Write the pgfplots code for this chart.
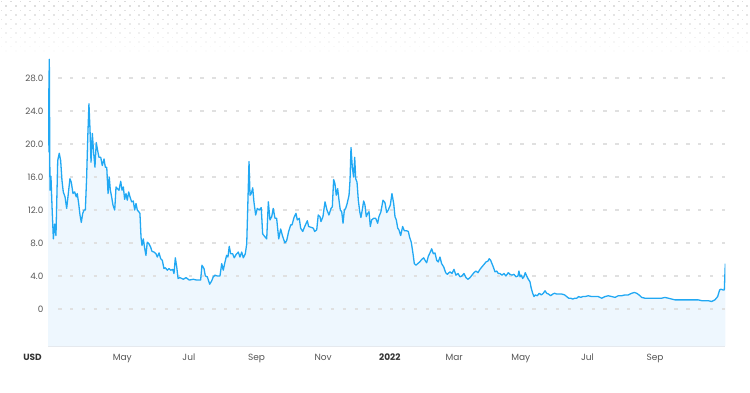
\documentclass[border=0pt]{standalone}
\usepackage{pgfplots}
\pgfplotsset{compat=1.18}
\usepackage{pgfplotstable}
\usepackage{fontspec}
\setmainfont{Poppins}
\definecolor{linec}{HTML}{21A8F3}
\definecolor{fillc}{HTML}{EEF7FE}
\definecolor{gridc}{HTML}{E0E0E0}
\definecolor{tickc}{HTML}{555555}
\definecolor{boldc}{HTML}{333333}
\definecolor{basec}{HTML}{E4E8EC}

% d = days since 1 Jan 2021, v = price (USD)
\pgfplotstableread{
d v
52.0 19.0
53.2 30.3
53.8 14.4
54.7 16.1
55.7 12.4
56.9 8.5
58.1 10.3
59.3 8.9
60.9 18.0
62.3 18.9
63.6 18.0
64.8 15.6
66.0 14.2
67.6 13.6
69.1 12.2
70.6 14.0
72.1 15.8
73.3 15.4
74.9 14.0
76.4 14.2
77.9 13.6
78.8 14.0
80.1 12.8
81.3 11.4
82.5 10.5
83.8 11.6
85.0 12.0
86.2 12.0
87.4 16.0
88.4 20.8
89.5 24.9
90.5 21.7
91.4 17.8
92.6 21.3
93.9 18.8
95.0 17.2
96.2 20.2
97.5 19.2
98.7 18.4
100.3 18.4
101.7 17.4
103.3 18.2
104.5 17.2
105.8 17.2
107.0 14.0
108.1 16.0
109.1 14.4
110.3 13.6
111.5 12.6
113.1 12.0
114.3 14.8
115.5 14.6
117.0 14.4
118.6 15.5
119.8 14.4
121.0 14.8
122.2 13.3
123.4 14.0
124.6 13.2
125.9 14.2
127.1 13.6
128.6 13.0
130.1 13.1
131.4 12.0
132.6 12.8
133.8 12.0
135.1 11.8
136.2 11.6
137.2 8.7
138.1 7.7
139.3 8.5
140.6 7.3
141.7 6.5
142.9 8.1
144.5 7.9
146.0 7.5
147.2 7.0
149.1 6.9
150.9 6.7
152.1 6.3
153.7 6.8
155.2 6.1
156.7 5.9
158.2 4.9
159.4 5.0
161.3 4.7
162.8 4.9
164.4 4.7
166.2 4.8
167.4 4.3
168.6 6.2
169.9 5.1
171.1 3.7
172.9 3.8
175.9 3.6
178.4 3.8
181.4 3.5
185.1 3.6
188.2 3.5
191.8 3.5
193.0 5.3
194.9 4.9
196.1 4.0
197.9 3.9
200.1 3.0
201.9 3.4
203.4 3.9
204.9 4.1
207.0 4.0
209.5 4.0
211.1 5.5
212.5 4.7
214.1 5.7
215.6 6.5
216.8 6.3
218.0 7.6
219.3 6.7
221.1 6.7
222.6 6.2
224.2 6.6
226.3 6.9
227.8 6.3
229.4 6.9
230.9 6.2
232.7 6.7
234.0 7.9
235.2 13.6
236.1 17.9
237.0 13.8
238.2 14.0
239.5 14.7
240.6 13.0
242.2 11.4
243.7 12.2
245.5 12.0
247.3 12.3
248.6 9.1
250.4 8.8
252.3 8.5
253.8 13.0
255.3 10.8
256.9 11.2
258.3 12.2
259.9 11.0
261.4 11.0
263.3 8.5
265.1 9.7
266.9 8.8
269.0 8.0
270.6 8.3
272.4 9.4
274.3 10.2
275.5 10.2
277.3 11.1
279.1 11.6
280.3 10.8
282.1 11.0
283.4 9.8
285.3 9.4
287.1 10.0
289.5 10.7
290.7 10.0
293.1 9.9
295.0 9.8
296.2 9.4
298.1 9.6
299.5 11.4
301.1 11.2
302.0 10.6
303.8 11.2
305.7 13.0
307.5 12.0
309.3 11.4
311.2 12.2
312.4 12.4
313.6 15.7
314.8 15.2
316.0 13.8
317.3 14.6
318.5 13.2
319.7 12.0
321.0 11.8
322.2 10.4
323.4 12.0
324.6 12.2
325.8 12.7
327.7 13.8
328.6 15.6
329.5 19.6
330.7 17.2
331.9 16.0
332.9 18.4
333.8 15.8
335.0 15.4
336.2 13.2
337.5 11.8
338.6 11.1
339.8 12.0
341.1 13.1
342.3 12.6
343.5 11.2
344.8 11.6
346.0 11.8
347.2 10.0
348.4 10.8
350.3 11.0
352.1 11.0
353.9 10.4
355.1 11.2
356.9 11.8
358.8 13.2
360.6 12.9
362.2 11.7
363.6 12.0
365.5 12.6
367.0 14.0
368.6 12.8
369.8 11.2
371.0 10.8
372.3 9.8
373.4 9.6
375.0 8.9
376.8 10.0
378.3 9.5
380.1 9.5
382.0 9.4
383.2 8.7
384.7 8.1
386.3 6.7
387.5 5.5
389.0 5.3
390.6 5.5
392.4 5.7
394.2 6.0
396.1 6.2
397.3 5.9
398.8 5.6
400.3 6.4
401.8 6.8
403.4 7.3
404.9 6.7
406.4 6.8
408.0 5.9
409.4 5.7
411.0 6.3
412.5 5.5
414.4 5.1
416.2 4.4
417.7 4.2
419.2 4.4
420.2 4.5
422.0 4.3
423.8 4.8
425.6 4.1
427.5 4.3
429.3 3.9
431.1 4.0
432.9 4.3
434.8 3.8
436.6 3.6
438.5 3.8
440.3 4.1
442.1 4.4
443.9 4.6
445.8 4.4
447.6 4.8
449.4 5.1
451.3 5.4
453.1 5.7
454.9 5.8
456.1 6.1
457.4 5.9
458.6 5.5
459.8 5.1
461.4 4.5
462.9 4.6
464.4 4.3
465.9 4.3
467.8 4.1
469.6 4.3
471.4 4.0
473.5 4.4
475.1 4.2
476.9 4.1
478.8 4.2
480.6 3.9
482.4 4.0
483.3 4.6
484.3 3.9
485.4 4.1
486.7 3.7
487.9 3.9
489.1 4.4
490.4 4.0
491.9 3.6
493.4 3.3
494.6 2.5
495.9 1.9
497.1 1.5
498.3 1.7
500.1 1.6
501.9 1.9
503.8 1.7
505.6 1.9
507.2 2.2
508.7 1.9
510.5 1.8
512.4 1.6
514.2 1.8
516.0 1.9
517.9 1.8
520.2 1.8
522.7 1.8
525.2 1.7
527.0 1.5
528.9 1.3
530.7 1.3
532.5 1.2
534.4 1.3
536.2 1.3
538.0 1.5
539.9 1.4
541.7 1.5
543.8 1.5
546.8 1.6
549.9 1.5
553.0 1.5
556.0 1.5
559.1 1.3
562.1 1.5
565.1 1.6
568.3 1.5
571.3 1.4
574.3 1.6
577.4 1.6
580.4 1.7
583.4 1.7
586.6 1.9
588.9 2.0
591.1 1.9
593.3 1.7
595.7 1.4
598.7 1.3
601.8 1.3
604.9 1.3
607.9 1.3
610.9 1.3
614.0 1.3
617.0 1.4
620.1 1.3
623.2 1.2
626.2 1.1
629.2 1.1
632.3 1.1
635.4 1.1
638.4 1.1
641.5 1.1
644.5 1.1
647.5 1.1
650.7 1.0
653.7 1.0
656.7 1.0
659.8 0.9
662.8 1.1
665.3 1.5
667.1 2.3
668.3 2.4
670.2 2.3
671.4 2.3
672.3 5.5
}\pricedata

\begin{document}
\begin{tikzpicture}
\path[use as bounding box] (0pt,0pt) rectangle (750pt,392pt);
% faint dotted band at the top (decoration)
\foreach \r in {0,...,11}{
  \pgfmathsetmacro{\yy}{392-1.7-4.5*\r}
  \pgfmathsetmacro{\op}{1-\r/12}
  \pgfmathsetmacro{\off}{mod(\r,2)*4.75+1.5}
  \begin{scope}[opacity=\op]
  \foreach \c in {0,...,79}{
    \fill[black!14] ({(\c*9.5+\off-0.8)*1pt},{(\yy-0.8)*1pt}) rectangle ++(1.6pt,1.6pt);
  }
  \end{scope}
}
\begin{axis}[
  at={(48pt,46pt)}, anchor=south west,
  scale only axis, width=677.3pt, height=292.5pt,
  xmin=52, xmax=672.3, ymin=-4.5, ymax=31,
  axis x line*=bottom, axis y line*=left,
  x axis line style={basec, line width=1.5pt},
  y axis line style={draw=none},
  xtick={120,181,243,304,365,424,485,546,608},
  xticklabels={May,Jul,Sep,Nov,\textcolor{boldc}{\textbf{2022}},Mar,May,Jul,Sep},
  ytick={0,4,8,12,16,20,24,28},
  yticklabels={0,4.0,8.0,12.0,16.0,20.0,24.0,28.0},
  major tick length=0pt,
  xticklabel style={anchor=base, inner sep=0pt, yshift=-14.7pt, font=\fontsize{9}{10}\selectfont, text=tickc},
  yticklabel style={anchor=east, inner sep=0pt, xshift=-4.5pt, font=\fontsize{8.8}{10}\selectfont, text=tickc},
]
\addplot[fill=fillc, draw=none, forget plot] table[x=d,y=v]{\pricedata} |- (axis cs:52,-4.5) -- cycle;
\addplot[gridc, line width=1.6pt, dash pattern=on 3.3pt off 8.55pt, forget plot] coordinates {(61.4,0) (672.3,0)};
\addplot[gridc, line width=1.6pt, dash pattern=on 3.3pt off 8.55pt, forget plot] coordinates {(61.4,4) (672.3,4)};
\addplot[gridc, line width=1.6pt, dash pattern=on 3.3pt off 8.55pt, forget plot] coordinates {(61.4,8) (672.3,8)};
\addplot[gridc, line width=1.6pt, dash pattern=on 3.3pt off 8.55pt, forget plot] coordinates {(61.4,12) (672.3,12)};
\addplot[gridc, line width=1.6pt, dash pattern=on 3.3pt off 8.55pt, forget plot] coordinates {(61.4,16) (672.3,16)};
\addplot[gridc, line width=1.6pt, dash pattern=on 3.3pt off 8.55pt, forget plot] coordinates {(61.4,20) (672.3,20)};
\addplot[gridc, line width=1.6pt, dash pattern=on 3.3pt off 8.55pt, forget plot] coordinates {(61.4,24) (672.3,24)};
\addplot[gridc, line width=1.6pt, dash pattern=on 3.3pt off 8.55pt, forget plot] coordinates {(61.4,28) (672.3,28)};
\addplot[linec, line width=1.3pt, line join=round, mark=none] table[x=d,y=v]{\pricedata};
\end{axis}
\node[anchor=base, inner sep=0pt, font=\fontsize{9}{10}\selectfont\bfseries, text=boldc] at (32.5pt,31.3pt) {USD};
\end{tikzpicture}
\end{document}
